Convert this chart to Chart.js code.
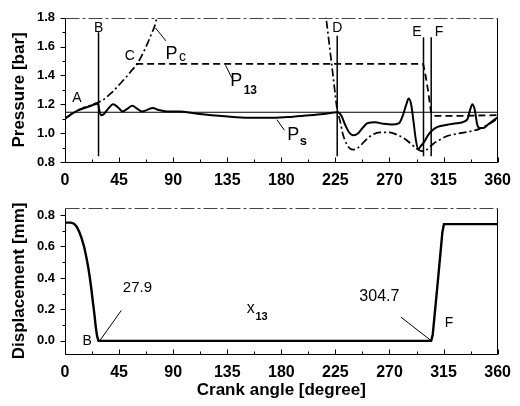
<!DOCTYPE html>
<html>
<head>
<meta charset="utf-8">
<script src="https://cdn.jsdelivr.net/npm/chart.js@4.4.0/dist/chart.umd.min.js"></script>
<style>
  html, body { margin: 0; padding: 0; background: #fff; }
  #wrap { position: relative; width: 520px; height: 406px; }
  canvas { position: absolute; left: 0; }
  #top { top: 0; }
  #bottom { top: 190px; }
</style>
</head>
<body>
<div id="wrap">
  <canvas id="top" width="520" height="190"></canvas>
  <canvas id="bottom" width="520" height="216"></canvas>
</div>
<script>
// tick labels
const angleTicks = [0, 45, 90, 135, 180, 225, 270, 315, 360];
const pressureTicks = [0.8, 1.0, 1.2, 1.4, 1.6, 1.8];
const displacementTicks = [0.0, 0.2, 0.4, 0.6, 0.8];

// Ps - suction side pressure
const psAngle = [0, 5, 10, 15, 20, 25, 27.5, 28.5, 30, 32, 36, 40, 44, 48, 52, 56, 60, 64, 68, 73,
  78, 85, 95, 110, 125, 140, 155, 170, 185, 200, 215, 227, 230, 233, 236, 240, 244, 248, 252, 258,
  265, 272, 278, 281, 284, 286, 288, 290, 292, 294, 296, 299, 302, 305, 310, 318, 326, 332, 335, 337,
  339, 341, 343, 345, 348, 352, 356, 360];
const psValue = [1.10, 1.13, 1.155, 1.17, 1.185, 1.20, 1.205, 1.16, 1.125, 1.13, 1.17, 1.20, 1.18, 1.15, 1.17, 1.19, 1.17, 1.15, 1.16, 1.175,
  1.16, 1.15, 1.15, 1.135, 1.122, 1.112, 1.106, 1.106, 1.112, 1.122, 1.133, 1.145, 1.12, 1.06, 1.01, 0.985, 1.00, 1.04, 1.07, 1.075,
  1.065, 1.06, 1.07, 1.12, 1.20, 1.24, 1.20, 1.08, 0.95, 0.89, 0.91, 0.94, 0.985, 1.015, 1.043, 1.058, 1.068, 1.08, 1.10, 1.16,
  1.20, 1.16, 1.06, 1.035, 1.035, 1.06, 1.085, 1.11];

// Pc - cylinder pressure (goes off the top of the scale between ~77 and ~217 deg)
const pcAngle = [0, 5, 10, 15, 20, 25, 28, 32, 36, 40, 45, 50, 55, 60, 64, 68, 72, 74.5, 77, 80,
  215, 217.6, 220, 222, 224, 226, 227, 229, 231, 234, 237, 240, 244, 250, 256, 262, 270, 276, 282, 288,
  293, 297, 300, 303, 307, 312, 318, 326, 336, 345, 352, 360];
const pcValue = [1.10, 1.13, 1.155, 1.175, 1.19, 1.205, 1.215, 1.232, 1.26, 1.29, 1.335, 1.38, 1.43, 1.48, 1.54, 1.61, 1.69, 1.74, 1.82, 1.95,
  1.95, 1.775, 1.61, 1.47, 1.33, 1.19, 1.145, 1.08, 1.00, 0.93, 0.895, 0.886, 0.90, 0.95, 0.99, 1.005, 1.005, 0.99, 0.965, 0.925,
  0.89, 0.875, 0.88, 0.90, 0.93, 0.955, 0.98, 0.995, 1.01, 1.03, 1.06, 1.10];

// P13
const p13Angle = [59.2, 298, 300, 302, 304.5, 307, 330, 360];
const p13Value = [1.48, 1.48, 1.40, 1.30, 1.15, 1.12, 1.12, 1.125];

// reference pressure line
const refPressure = 1.145;

// valve events B, D, E, F
const eventName = ['B', 'D', 'E', 'F'];
const eventAngle = [27.9, 226.5, 298.3, 304.7];
const eventTop = [1.70, 1.675, 1.665, 1.665];
const eventBottom = [0.84, 0.84, 0.84, 0.84];

// x13 - valve displacement
const x13Angle = [0, 5, 7.5, 9.6, 12, 13.8, 16, 17.9, 19.5, 20.7, 22, 23.4, 24.6, 25.6, 26.7, 27.9,
  304.7, 306, 308, 310, 312, 314, 315.3, 360];
const x13Value = [0.752, 0.752, 0.745, 0.727, 0.69, 0.653, 0.595, 0.527, 0.46, 0.40, 0.325, 0.235, 0.16, 0.088, 0.03, 0.0,
  0.0, 0.04, 0.2, 0.36, 0.525, 0.69, 0.742, 0.742];

const FONT = "'Liberation Sans', Arial, sans-serif";

function pts(xs, ys) {
    return xs.map((x, i) => ({ x: x, y: ys[i] }));
}

// annotations, frame and ticks
const decor = {
    id: 'decor',
    afterDraw(chart, args, opts) {
        const ctx = chart.ctx;
        const a = chart.chartArea;
        const x = chart.scales.x, y = chart.scales.y;
        const L = Math.round(a.left) + 0.5, R = Math.round(a.right) - 0.5;
        const T = Math.round(a.top) + 0.5, B = Math.round(a.bottom) + 0.5;
        ctx.save();
        ctx.lineWidth = 1;
        ctx.strokeStyle = '#000';
        ctx.beginPath();
        ctx.moveTo(L, T); ctx.lineTo(L, B); ctx.lineTo(R, B); ctx.lineTo(R, T);
        ctx.stroke();
        ctx.strokeStyle = '#444';
        ctx.setLineDash([14, 3, 3, 3]);
        ctx.beginPath(); ctx.moveTo(L, T); ctx.lineTo(R, T); ctx.stroke();
        ctx.setLineDash([]);

        // x ticks, inward
        ctx.strokeStyle = '#000';
        ctx.beginPath();
        for (let v = x.min; v <= x.max + 0.01; v += 22.5) {
            const px = Math.round(x.getPixelForValue(v)) + 0.5;
            const len = v % 45 === 0 ? 5 : 3;
            ctx.moveTo(px, B); ctx.lineTo(px, B - len);
        }
        // y ticks, outward
        const tv = y.ticks.map(t => t.value);
        const half = (tv[1] - tv[0]) / 2;
        for (let k = -2; k <= tv.length * 2; k++) {
            const v = tv[0] + k * half;
            if (v < y.min - 1e-6 || v > y.max + 1e-6) continue;
            const py = Math.round(y.getPixelForValue(v)) + 0.5;
            const len = k % 2 === 0 ? 5 : 3;
            ctx.moveTo(L, py); ctx.lineTo(L - len, py);
        }
        ctx.stroke();

        // leader lines
        ctx.lineWidth = 1;
        ctx.beginPath();
        (opts.leaders || []).forEach(l => {
            ctx.moveTo(x.getPixelForValue(l[0]), y.getPixelForValue(l[1]));
            ctx.lineTo(x.getPixelForValue(l[2]), y.getPixelForValue(l[3]));
        });
        ctx.stroke();

        // labels
        ctx.fillStyle = '#000';
        ctx.textAlign = 'center';
        ctx.textBaseline = 'middle';
        (opts.texts || []).forEach(t => {
            ctx.font = t.font;
            ctx.fillText(t.text, x.getPixelForValue(t.at[0]), y.getPixelForValue(t.at[1]));
        });
        ctx.restore();
    }
};

function axisX(height, withTitle) {
    return {
        type: 'linear',
        min: 0,
        max: 360,
        afterBuildTicks: s => { s.ticks = angleTicks.map(v => ({ value: v })); },
        afterFit: s => { s.height = height; },
        grid: { display: false, drawTicks: false },
        border: { display: false },
        ticks: {
            color: '#000',
            padding: 9,
            maxRotation: 0,
            autoSkip: false,
            font: { family: FONT, size: 16, weight: 'bold' }
        },
        title: {
            display: withTitle,
            text: 'Crank angle [degree]',
            color: '#000',
            padding: { top: 0, bottom: 5 },
            font: { family: FONT, size: 17, weight: 'bold' }
        }
    };
}

function axisY(min, max, tickValues, label) {
    return {
        type: 'linear',
        min: min,
        max: max,
        afterBuildTicks: s => { s.ticks = tickValues.map(v => ({ value: v })); },
        afterFit: s => { s.width = 65; },
        grid: { display: false, drawTicks: false },
        border: { display: false },
        ticks: {
            color: '#000',
            padding: 10,
            callback: v => v.toFixed(1),
            font: { family: FONT, size: 13, weight: 'bold' }
        },
        title: {
            display: true,
            text: label,
            color: '#000',
            padding: { top: 9, bottom: 0 },
            font: { family: FONT, size: 17, weight: 'bold' }
        }
    };
}

const lineBase = { pointRadius: 0, borderColor: '#000', fill: false, showLine: true };

// Pressure chart
const topSets = [
    Object.assign({}, lineBase, { data: [{ x: 0, y: refPressure }, { x: 360, y: refPressure }], borderWidth: 1 })
];
eventAngle.forEach((a, i) => {
    topSets.push(Object.assign({}, lineBase, {
        data: [{ x: a, y: eventTop[i] }, { x: a, y: eventBottom[i] }],
        borderWidth: 1.5
    }));
});
topSets.push(Object.assign({}, lineBase, { data: pts(p13Angle, p13Value), borderWidth: 1.8, borderDash: [7, 4] }));
topSets.push(Object.assign({}, lineBase, { data: pts(pcAngle, pcValue), borderWidth: 1.7, borderDash: [8, 3, 2, 3], cubicInterpolationMode: 'monotone' }));
topSets.push(Object.assign({}, lineBase, { data: pts(psAngle, psValue), borderWidth: 2, cubicInterpolationMode: 'monotone' }));

new Chart(document.getElementById('top'), {
    type: 'scatter',
    data: { datasets: topSets },
    options: {
        responsive: false,
        animation: false,
        devicePixelRatio: 1,
        layout: { padding: { left: 0, right: 19, top: 13, bottom: 0 } },
        scales: {
            x: axisX(28, false),
            y: axisY(0.8, 1.8, pressureTicks, 'Pressure [bar]')
        },
        plugins: {
            legend: { display: false },
            tooltip: { enabled: false },
            decor: {
                leaders: [[75.2, 1.73, 84, 1.64], [133.6, 1.471, 139, 1.38], [176.3, 1.093, 182.6, 1.02]],
                texts: [
                    { text: 'A', at: [10, 1.24], font: '14px ' + FONT },
                    { text: eventName[0], at: [28, 1.725], font: '14px ' + FONT },
                    { text: 'C', at: [54, 1.532], font: '14px ' + FONT },
                    { text: eventName[1], at: [226.5, 1.725], font: '14px ' + FONT },
                    { text: eventName[2], at: [292.8, 1.70], font: '14px ' + FONT },
                    { text: eventName[3], at: [311.2, 1.70], font: '14px ' + FONT },
                    { text: 'P', at: [88.7, 1.55], font: '18px ' + FONT },
                    { text: 'c', at: [97.8, 1.528], font: '14px ' + FONT },
                    { text: 'P', at: [142.4, 1.359], font: '18px ' + FONT },
                    { text: '13', at: [154.2, 1.298], font: 'bold 12px ' + FONT },
                    { text: 'P', at: [190, 0.987], font: '18px ' + FONT },
                    { text: 's', at: [198.3, 0.942], font: 'bold 13px ' + FONT }
                ]
            }
        }
    },
    plugins: [decor]
});

// Displacement chart
new Chart(document.getElementById('bottom'), {
    type: 'scatter',
    data: {
        datasets: [
            Object.assign({}, lineBase, { data: pts(x13Angle, x13Value), borderWidth: 2.4 })
        ]
    },
    options: {
        responsive: false,
        animation: false,
        devicePixelRatio: 1,
        layout: { padding: { left: 0, right: 19, top: 16, bottom: 0 } },
        scales: {
            x: axisX(52, true),
            y: axisY(-0.0835, 0.846, displacementTicks, 'Displacement [mm]')
        },
        plugins: {
            legend: { display: false },
            tooltip: { enabled: false },
            decor: {
                leaders: [[28.9, 0.0, 46.8, 0.193], [279.5, 0.151, 304.9, 0.0]],
                texts: [
                    { text: '27.9', at: [60.3, 0.34], font: '15px ' + FONT },
                    { text: 'B', at: [18.4, 0.0], font: '14px ' + FONT },
                    { text: 'x', at: [154.5, 0.205], font: '16px ' + FONT },
                    { text: '13', at: [163.6, 0.155], font: 'bold 11px ' + FONT },
                    { text: '304.7', at: [261.6, 0.28], font: '16px ' + FONT },
                    { text: 'F', at: [319.5, 0.113], font: '14px ' + FONT }
                ]
            }
        }
    },
    plugins: [decor]
});
</script>
</body>
</html>
